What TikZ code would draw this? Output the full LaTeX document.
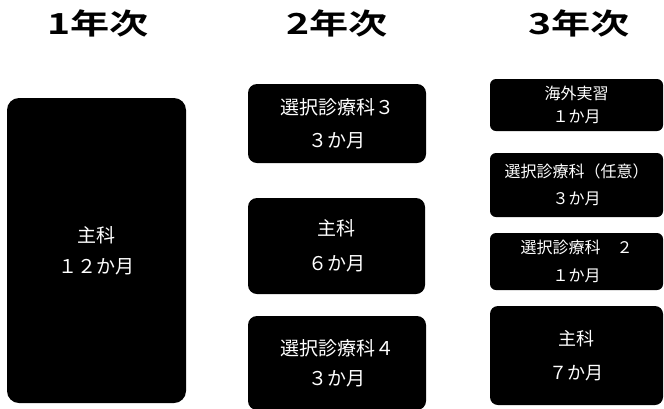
\documentclass[tikz,border=0pt]{standalone}
\usepackage{fontspec}
\newfontfamily\jp{Noto Sans CJK JP}
\newfontfamily\jpt[FakeStretch=1.35]{Noto Sans CJK JP Bold}
\begin{document}
\begin{tikzpicture}[x=1pt,y=-1pt,
  box/.style={fill=black, text=white, inner sep=0pt, align=center},
  title/.style={font=\jpt\fontsize{29}{29}\selectfont, inner sep=0pt, anchor=center},
  big/.style={font=\jp\fontsize{19}{#1}\selectfont},
  small/.style={font=\jp\fontsize{16}{#1}\selectfont}]
\useasboundingbox (0,0) rectangle (664,408);
\fill[white] (0,0) rectangle (664,408);
% titles
\node[title] (t1) at (98,23) {1年次};
\node[title] (t2) at (337,23.5) {2年次};
\node[title] (t3) at (579,23) {3年次};
% year 1
\node[box, big=31, minimum width=179pt, minimum height=305pt, rounded corners=12pt] (a1) at (96.5,250.5) {主科\\１２か月};
% year 2
\node[box, big=33, minimum width=178pt, minimum height=79pt, rounded corners=9pt] (b1) at (337,123.5) {選択診療科３\\３か月};
\node[box, big=35, minimum width=177pt, minimum height=96pt, rounded corners=9pt] (b2) at (336.5,246) {主科\\６か月};
\node[box, big=30, minimum width=178pt, minimum height=94pt, rounded corners=9pt] (b3) at (337,363) {選択診療科４\\３か月};
% year 3
\node[box, small=23, minimum width=173pt, minimum height=52pt, rounded corners=6pt] (c1) at (576.5,105) {海外実習\\１か月};
\node[box, small=27, minimum width=173pt, minimum height=64pt, rounded corners=6pt] (c2) at (576.5,185) {選択診療科（任意）\\３か月};
\node[box, small=28, minimum width=173pt, minimum height=57pt, rounded corners=6pt] (c3) at (576.5,261.5) {選択診療科　２\\１か月};
\node[box, font=\jp\fontsize{18}{34}\selectfont, minimum width=173pt, minimum height=99pt, rounded corners=8pt] (c4) at (576.5,355.5) {主科\\７か月};
\end{tikzpicture}
\end{document}
